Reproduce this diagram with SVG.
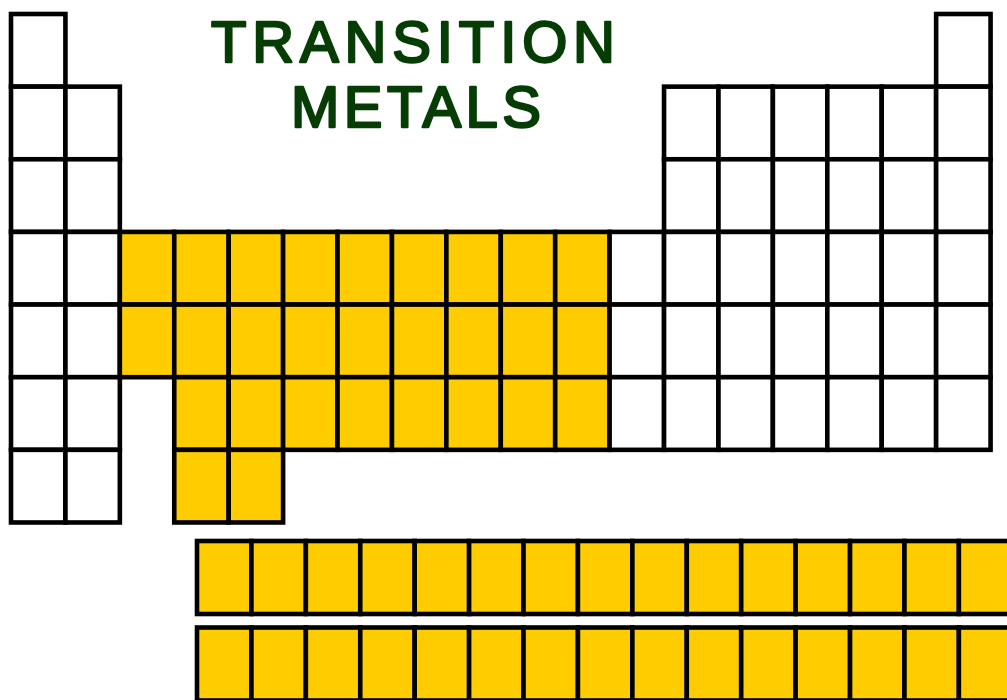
<svg xmlns="http://www.w3.org/2000/svg" width="1007" height="700" viewBox="0 0 1007 700">
<style>
.w{fill:#ffffff;stroke:#000;stroke-width:4.6}
.y{fill:#ffcc00;stroke:#000;stroke-width:4.6}
.t{font-family:"Liberation Sans",Arial,sans-serif;font-weight:normal;font-size:58px;fill:#053d05;stroke:#053d05;stroke-width:2.4;stroke-linejoin:round;text-anchor:middle}
</style>
<rect width="1007" height="700" fill="#fff"/>
<g id="title">
<text class="t" x="413" y="62" textLength="404" lengthAdjust="spacing">TRANSITION</text>
<text class="t" x="416" y="127" textLength="250" lengthAdjust="spacing">METALS</text>
</g>
<g id="main-table">
<g id="row1">
<rect class="w" x="11" y="14" width="54.42" height="72.64"/>
<rect class="w" x="936.14" y="14" width="54.42" height="72.64"/>
</g>
<g id="row2">
<rect class="w" x="11" y="86.64" width="54.42" height="72.64"/>
<rect class="w" x="65.42" y="86.64" width="54.42" height="72.64"/>
<rect class="w" x="664.04" y="86.64" width="54.42" height="72.64"/>
<rect class="w" x="718.46" y="86.64" width="54.42" height="72.64"/>
<rect class="w" x="772.88" y="86.64" width="54.42" height="72.64"/>
<rect class="w" x="827.3" y="86.64" width="54.42" height="72.64"/>
<rect class="w" x="881.72" y="86.64" width="54.42" height="72.64"/>
<rect class="w" x="936.14" y="86.64" width="54.42" height="72.64"/>
</g>
<g id="row3">
<rect class="w" x="11" y="159.28" width="54.42" height="72.64"/>
<rect class="w" x="65.42" y="159.28" width="54.42" height="72.64"/>
<rect class="w" x="664.04" y="159.28" width="54.42" height="72.64"/>
<rect class="w" x="718.46" y="159.28" width="54.42" height="72.64"/>
<rect class="w" x="772.88" y="159.28" width="54.42" height="72.64"/>
<rect class="w" x="827.3" y="159.28" width="54.42" height="72.64"/>
<rect class="w" x="881.72" y="159.28" width="54.42" height="72.64"/>
<rect class="w" x="936.14" y="159.28" width="54.42" height="72.64"/>
</g>
<g id="row4">
<rect class="w" x="11" y="231.92" width="54.42" height="72.64"/>
<rect class="w" x="65.42" y="231.92" width="54.42" height="72.64"/>
<rect class="y" x="119.84" y="231.92" width="54.42" height="72.64"/>
<rect class="y" x="174.26" y="231.92" width="54.42" height="72.64"/>
<rect class="y" x="228.68" y="231.92" width="54.42" height="72.64"/>
<rect class="y" x="283.1" y="231.92" width="54.42" height="72.64"/>
<rect class="y" x="337.52" y="231.92" width="54.42" height="72.64"/>
<rect class="y" x="391.94" y="231.92" width="54.42" height="72.64"/>
<rect class="y" x="446.36" y="231.92" width="54.42" height="72.64"/>
<rect class="y" x="500.78" y="231.92" width="54.42" height="72.64"/>
<rect class="y" x="555.2" y="231.92" width="54.42" height="72.64"/>
<rect class="w" x="609.62" y="231.92" width="54.42" height="72.64"/>
<rect class="w" x="664.04" y="231.92" width="54.42" height="72.64"/>
<rect class="w" x="718.46" y="231.92" width="54.42" height="72.64"/>
<rect class="w" x="772.88" y="231.92" width="54.42" height="72.64"/>
<rect class="w" x="827.3" y="231.92" width="54.42" height="72.64"/>
<rect class="w" x="881.72" y="231.92" width="54.42" height="72.64"/>
<rect class="w" x="936.14" y="231.92" width="54.42" height="72.64"/>
</g>
<g id="row5">
<rect class="w" x="11" y="304.56" width="54.42" height="72.64"/>
<rect class="w" x="65.42" y="304.56" width="54.42" height="72.64"/>
<rect class="y" x="119.84" y="304.56" width="54.42" height="72.64"/>
<rect class="y" x="174.26" y="304.56" width="54.42" height="72.64"/>
<rect class="y" x="228.68" y="304.56" width="54.42" height="72.64"/>
<rect class="y" x="283.1" y="304.56" width="54.42" height="72.64"/>
<rect class="y" x="337.52" y="304.56" width="54.42" height="72.64"/>
<rect class="y" x="391.94" y="304.56" width="54.42" height="72.64"/>
<rect class="y" x="446.36" y="304.56" width="54.42" height="72.64"/>
<rect class="y" x="500.78" y="304.56" width="54.42" height="72.64"/>
<rect class="y" x="555.2" y="304.56" width="54.42" height="72.64"/>
<rect class="w" x="609.62" y="304.56" width="54.42" height="72.64"/>
<rect class="w" x="664.04" y="304.56" width="54.42" height="72.64"/>
<rect class="w" x="718.46" y="304.56" width="54.42" height="72.64"/>
<rect class="w" x="772.88" y="304.56" width="54.42" height="72.64"/>
<rect class="w" x="827.3" y="304.56" width="54.42" height="72.64"/>
<rect class="w" x="881.72" y="304.56" width="54.42" height="72.64"/>
<rect class="w" x="936.14" y="304.56" width="54.42" height="72.64"/>
</g>
<g id="row6">
<rect class="w" x="11" y="377.2" width="54.42" height="72.64"/>
<rect class="w" x="65.42" y="377.2" width="54.42" height="72.64"/>
<rect class="y" x="174.26" y="377.2" width="54.42" height="72.64"/>
<rect class="y" x="228.68" y="377.2" width="54.42" height="72.64"/>
<rect class="y" x="283.1" y="377.2" width="54.42" height="72.64"/>
<rect class="y" x="337.52" y="377.2" width="54.42" height="72.64"/>
<rect class="y" x="391.94" y="377.2" width="54.42" height="72.64"/>
<rect class="y" x="446.36" y="377.2" width="54.42" height="72.64"/>
<rect class="y" x="500.78" y="377.2" width="54.42" height="72.64"/>
<rect class="y" x="555.2" y="377.2" width="54.42" height="72.64"/>
<rect class="w" x="609.62" y="377.2" width="54.42" height="72.64"/>
<rect class="w" x="664.04" y="377.2" width="54.42" height="72.64"/>
<rect class="w" x="718.46" y="377.2" width="54.42" height="72.64"/>
<rect class="w" x="772.88" y="377.2" width="54.42" height="72.64"/>
<rect class="w" x="827.3" y="377.2" width="54.42" height="72.64"/>
<rect class="w" x="881.72" y="377.2" width="54.42" height="72.64"/>
<rect class="w" x="936.14" y="377.2" width="54.42" height="72.64"/>
</g>
<g id="row7">
<rect class="w" x="11" y="449.84" width="54.42" height="72.64"/>
<rect class="w" x="65.42" y="449.84" width="54.42" height="72.64"/>
<rect class="y" x="174.26" y="449.84" width="54.42" height="72.64"/>
<rect class="y" x="228.68" y="449.84" width="54.42" height="72.64"/>
</g>
</g>
<g id="lanthanides">
<rect class="y" x="197" y="541" width="54.42" height="73"/>
<rect class="y" x="251.42" y="541" width="54.42" height="73"/>
<rect class="y" x="305.84" y="541" width="54.42" height="73"/>
<rect class="y" x="360.26" y="541" width="54.42" height="73"/>
<rect class="y" x="414.68" y="541" width="54.42" height="73"/>
<rect class="y" x="469.1" y="541" width="54.42" height="73"/>
<rect class="y" x="523.52" y="541" width="54.42" height="73"/>
<rect class="y" x="577.94" y="541" width="54.42" height="73"/>
<rect class="y" x="632.36" y="541" width="54.42" height="73"/>
<rect class="y" x="686.78" y="541" width="54.42" height="73"/>
<rect class="y" x="741.2" y="541" width="54.42" height="73"/>
<rect class="y" x="795.62" y="541" width="54.42" height="73"/>
<rect class="y" x="850.04" y="541" width="54.42" height="73"/>
<rect class="y" x="904.46" y="541" width="54.42" height="73"/>
<rect class="y" x="958.88" y="541" width="54.42" height="73"/>
</g>
<g id="actinides">
<rect class="y" x="197" y="627.5" width="54.42" height="73"/>
<rect class="y" x="251.42" y="627.5" width="54.42" height="73"/>
<rect class="y" x="305.84" y="627.5" width="54.42" height="73"/>
<rect class="y" x="360.26" y="627.5" width="54.42" height="73"/>
<rect class="y" x="414.68" y="627.5" width="54.42" height="73"/>
<rect class="y" x="469.1" y="627.5" width="54.42" height="73"/>
<rect class="y" x="523.52" y="627.5" width="54.42" height="73"/>
<rect class="y" x="577.94" y="627.5" width="54.42" height="73"/>
<rect class="y" x="632.36" y="627.5" width="54.42" height="73"/>
<rect class="y" x="686.78" y="627.5" width="54.42" height="73"/>
<rect class="y" x="741.2" y="627.5" width="54.42" height="73"/>
<rect class="y" x="795.62" y="627.5" width="54.42" height="73"/>
<rect class="y" x="850.04" y="627.5" width="54.42" height="73"/>
<rect class="y" x="904.46" y="627.5" width="54.42" height="73"/>
<rect class="y" x="958.88" y="627.5" width="54.42" height="73"/>
</g>
</svg>
